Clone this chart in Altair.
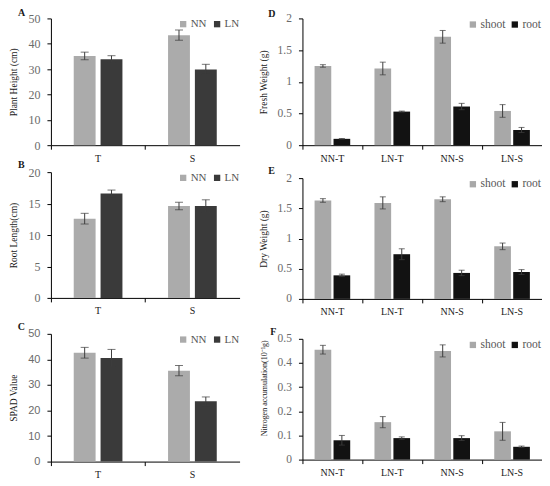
import altair as alt
import pandas as pd

# ---------------- data ----------------
cats_tv = ["T", "S"]
grp_tv = ["NN", "LN"]

A_NN = [35.2, 43.4]
A_NN_err = [1.5, 2.0]
A_LN = [33.9, 29.9]
A_LN_err = [1.4, 2.0]

B_NN = [12.6, 14.6]
B_NN_err = [0.85, 0.6]
B_LN = [16.6, 14.6]
B_LN_err = [0.55, 1.0]

C_NN = [42.6, 35.6]
C_NN_err = [2.1, 2.0]
C_LN = [40.5, 23.6]
C_LN_err = [3.4, 1.7]

cats_tr = ["NN-T", "LN-T", "NN-S", "LN-S"]
grp_tr = ["shoot", "root"]

D_shoot = [1.25, 1.21, 1.71, 0.54]
D_shoot_err = [0.02, 0.10, 0.10, 0.10]
D_root = [0.10, 0.53, 0.61, 0.24]
D_root_err = [0.005, 0.008, 0.05, 0.04]

E_shoot = [1.63, 1.59, 1.65, 0.87]
E_shoot_err = [0.03, 0.10, 0.04, 0.055]
E_root = [0.39, 0.74, 0.43, 0.445]
E_root_err = [0.02, 0.09, 0.045, 0.04]

F_shoot = [0.455, 0.155, 0.450, 0.117]
F_shoot_err = [0.018, 0.023, 0.025, 0.037]
F_root = [0.080, 0.089, 0.089, 0.053]
F_root_err = [0.020, 0.005, 0.010, 0.003]

SERIF = "Liberation Serif"
SANS = "Liberation Sans"
ERR_COLOR = "#3c3c3c"
TICK_LABEL_COLOR = "#6b6b6b"


def make_df(cats, groups, series, errs):
    rows = []
    for g, vals, es in zip(groups, series, errs):
        for c, v, e in zip(cats, vals, es):
            rows.append({"cat": c, "grp": g, "val": v, "lo": v - e, "hi": v + e})
    return pd.DataFrame(rows)


def panel(df, cats, groups, colors, letter, ytitle, ymax, ystep, width, height,
          pi, po, cap, ylabel_font, ylabel_size, legend_size, title_dx, col_pad,
          letter_offset=-4, ytitle_size=9.5, ytitle_y=None):
    yvals = []
    k = 0
    while k * ystep <= ymax + 1e-9:
        yvals.append(round(k * ystep, 6))
        k += 1
    axis_kw = dict(
        title=ytitle, values=yvals, labelExpr="toString(datum.value)", grid=False,
        domainColor="#000000", tickColor="#000000", tickSize=4, labelPadding=7,
        labelFont=ylabel_font, labelFontSize=ylabel_size, labelColor=TICK_LABEL_COLOR,
        titleFont=SERIF, titleFontSize=ytitle_size, titleFontWeight="normal",
        titleColor="#1a1a1a", titlePadding=9,
    )
    if ytitle_y is not None:
        axis_kw["titleY"] = ytitle_y
    yaxis = alt.Axis(**axis_kw)
    xaxis = alt.Axis(
        title=None, labelAngle=0, bandPosition=0, ticks=True, tickSize=4,
        domainColor="#000000", tickColor="#000000", labelPadding=4,
        labelFont=SERIF, labelFontSize=10, labelColor="#1a1a1a",
    )
    yscale = alt.Scale(domain=[0, ymax], nice=False)
    x = alt.X("cat:N", sort=cats, scale=alt.Scale(paddingInner=0, paddingOuter=0), axis=xaxis)
    xo = alt.XOffset("grp:N", sort=groups, scale=alt.Scale(paddingInner=pi, paddingOuter=po))
    base = alt.Chart(df)
    bars = base.mark_bar().encode(
        x=x, xOffset=xo,
        y=alt.Y("val:Q", scale=yscale, axis=yaxis),
        color=alt.Color(
            "grp:N", sort=groups, scale=alt.Scale(domain=groups, range=colors),
            legend=alt.Legend(
                title=None, orient="top-right", direction="horizontal",
                symbolType="square", symbolSize=40, symbolStrokeWidth=0,
                labelFont=SERIF, labelFontSize=legend_size, labelColor="#555555",
                offset=0, columnPadding=col_pad, labelOffset=2, padding=0,
            ),
        ),
    )
    rules = base.mark_rule(color=ERR_COLOR, strokeWidth=1).encode(
        x=x, xOffset=xo,
        y=alt.Y("lo:Q", scale=yscale, axis=yaxis), y2="hi:Q",
    )
    cap_hi = base.mark_tick(color=ERR_COLOR, size=cap, thickness=1).encode(
        x=x, xOffset=xo, y=alt.Y("hi:Q", scale=yscale, axis=yaxis),
    )
    cap_lo = base.mark_tick(color=ERR_COLOR, size=cap, thickness=1).encode(
        x=x, xOffset=xo, y=alt.Y("lo:Q", scale=yscale, axis=yaxis),
    )
    return alt.layer(bars, rules, cap_hi, cap_lo).properties(
        width=width, height=height,
        title=alt.TitleParams(
            text=letter, anchor="start", dx=title_dx, offset=letter_offset,
            font=SERIF, fontSize=10, fontWeight="bold", color="#1a1a1a",
        ),
    )


def indep(c):
    return c.resolve_scale(color="independent", xOffset="independent",
                           x="independent", y="independent").resolve_legend(color="independent")


tv_colors = ["#ababab", "#3a3a3a"]
tr_colors = ["#a8a8a8", "#121212"]

dfA = make_df(cats_tv, grp_tv, [A_NN, A_LN], [A_NN_err, A_LN_err])
dfB = make_df(cats_tv, grp_tv, [B_NN, B_LN], [B_NN_err, B_LN_err])
dfC = make_df(cats_tv, grp_tv, [C_NN, C_LN], [C_NN_err, C_LN_err])
dfD = make_df(cats_tr, grp_tr, [D_shoot, D_root], [D_shoot_err, D_root_err])
dfE = make_df(cats_tr, grp_tr, [E_shoot, E_root], [E_shoot_err, E_root_err])
dfF = make_df(cats_tr, grp_tr, [F_shoot, F_root], [F_shoot_err, F_root_err])

LW = 189
RW = 240
lpi, lpo = 0.185, 0.85
rpi, rpo = 0.12, 0.64

pA = panel(dfA, cats_tv, grp_tv, tv_colors, "A", "Plant Height (cm)", 50, 10, LW, 127,
           lpi, lpo, 8, SERIF, 12, 11, 9, 5, letter_offset=-6)
pB = panel(dfB, cats_tv, grp_tv, tv_colors, "B", "Root Length(cm)", 20, 5, LW, 126,
           lpi, lpo, 8, SERIF, 12, 11, 9, 5)
pC = panel(dfC, cats_tv, grp_tv, tv_colors, "C", "SPAD Value", 50, 10, LW, 128,
           lpi, lpo, 8, SANS, 11, 11, 9, 5)
pD = panel(dfD, cats_tr, grp_tr, tr_colors, "D", "Fresh Weight (g)", 2, 0.5, RW, 127,
           rpi, rpo, 6, SERIF, 11.5, 11.5, 10, 3, letter_offset=-7)
pE = panel(dfE, cats_tr, grp_tr, tr_colors, "E", "Dry Weight (g)", 2, 0.5, RW, 121,
           rpi, rpo, 6, SERIF, 11.5, 11.5, 10, 3)
pF = panel(dfF, cats_tr, grp_tr, tr_colors, "F", "Nitrogen accumulation(10\u207b\u00b9g)", 0.5, 0.1, RW, 121,
           rpi, rpo, 6, SERIF, 11.5, 11.5, 10, 3, ytitle_size=8, ytitle_y=49)

leftBC = indep(alt.VConcatChart(vconcat=[pB, pC], spacing=36, bounds="flush"))
left = indep(alt.VConcatChart(vconcat=[pA, leftBC], spacing=-3))
rightEF = indep(alt.VConcatChart(vconcat=[pE, pF], spacing=40, bounds="flush"))
right = indep(alt.VConcatChart(vconcat=[pD, rightEF], spacing=3))

chart = indep(alt.HConcatChart(hconcat=[left, right], spacing=18)).properties(
    padding=0, background="#ffffff"
).configure_view(stroke=None)

chart.save("out.html", embed_options={"renderer": "svg", "actions": False})
